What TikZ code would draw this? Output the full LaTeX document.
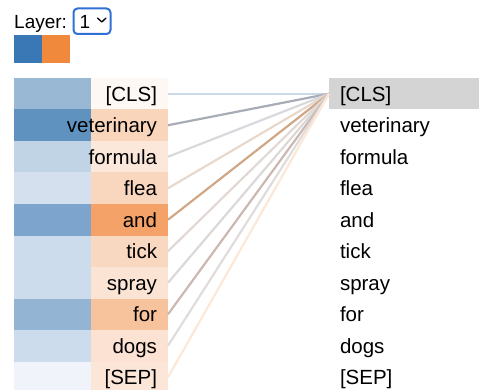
\documentclass[tikz,border=0pt]{standalone}
\usepackage{fontspec}
\setmainfont{Liberation Sans}
\begin{document}
\begin{tikzpicture}[x=1pt,y=-1pt,
  tokfont/.style={font=\fontsize{20.5}{24}\selectfont},
  cell/.style={draw=none, minimum height=31.5pt, inner sep=0pt, outer sep=0pt},
  lefttok/.style={cell, tokfont, minimum width=77pt, text height=14.6pt, text depth=0pt},
  righttok/.style={cell, tokfont, anchor=west, minimum width=150pt, inner xsep=11pt,
                   text width=128pt, align=left, text height=14.6pt, text depth=0pt},
  swatch/.style={draw=none, minimum width=28pt, minimum height=28.3pt, inner sep=0pt, outer sep=0pt},
  attn/.style={line width=2.2pt}]
\useasboundingbox (0,0) rectangle (479,390);

% layer selector
\node[anchor=base west, inner sep=0pt, font=\fontsize{19}{23}\selectfont] (layerlbl) at (14,29) {Layer:};
\draw[rounded corners=4pt, line width=2pt, draw={rgb,255:red,47;green,111;blue,214}]
  (73.5,8.5) rectangle (110.5,34);
\node[anchor=base west, inner sep=0pt, font=\fontsize{19}{23}\selectfont] (layerval) at (79.5,29) {1};
\draw[line width=1.3pt, line cap=round, line join=round] (97.5,18) -- (101.8,22) -- (106,18);

% head colour swatches
\node[swatch, anchor=north west, fill={rgb,255:red,58;green,120;blue,181}] (sw0) at (14,35) {};
\node[swatch, anchor=north west, fill={rgb,255:red,240;green,137;blue,59}] (sw1) at (42,35) {};

% right column of tokens
\node[righttok, fill={rgb,255:red,212;green,212;blue,212}] (tR0) at (329,93.75) {[CLS]};
\foreach \i/\tok in {1/veterinary,2/formula,3/flea,4/and,5/tick,6/spray,7/for,8/dogs,9/[SEP]}{
  \node[righttok] (tR\i) at (329,93.75+31.5*\i) {\tok};
}

% left column: attention strip, token cell, attention line
\foreach \i/\tok/\bc/\oc/\lc in {
  0/[CLS]/98B8D4/FEF8F4/CAD8E8,
  1/veterinary/6092C0/F9D5BC/A8ACB6,
  2/formula/C0D4E6/FBE8DA/D8D9DC,
  3/flea/D4E0EE/F9D6BE/E8D8CC,
  4/and/7CA4CC/F4A268/D0A888,
  5/tick/CCDCEC/F9D8C2/E2D8D4,
  6/spray/CCDCEC/FBE4D4/DCD8D8,
  7/for/94B4D4/F7C39C/CBB8B0,
  8/dogs/CCDCEC/FBE2D2/E0DCDC,
  9/[SEP]/F0F4FA/FCE6D8/FBE8D8}{
  \definecolor{bcol}{HTML}{\bc}
  \definecolor{ocol}{HTML}{\oc}
  \definecolor{lcol}{HTML}{\lc}
  \node[cell, minimum width=77pt, fill=bcol] (bL\i) at (52.5,93.75+31.5*\i) {};
  \node[lefttok, fill=ocol] (tL\i) at (129.5,93.75+31.5*\i) {\makebox[55pt][r]{\tok}};
  \draw[attn, draw=lcol] (tL\i.east) -- (tR0.west);
}
\end{tikzpicture}
\end{document}
